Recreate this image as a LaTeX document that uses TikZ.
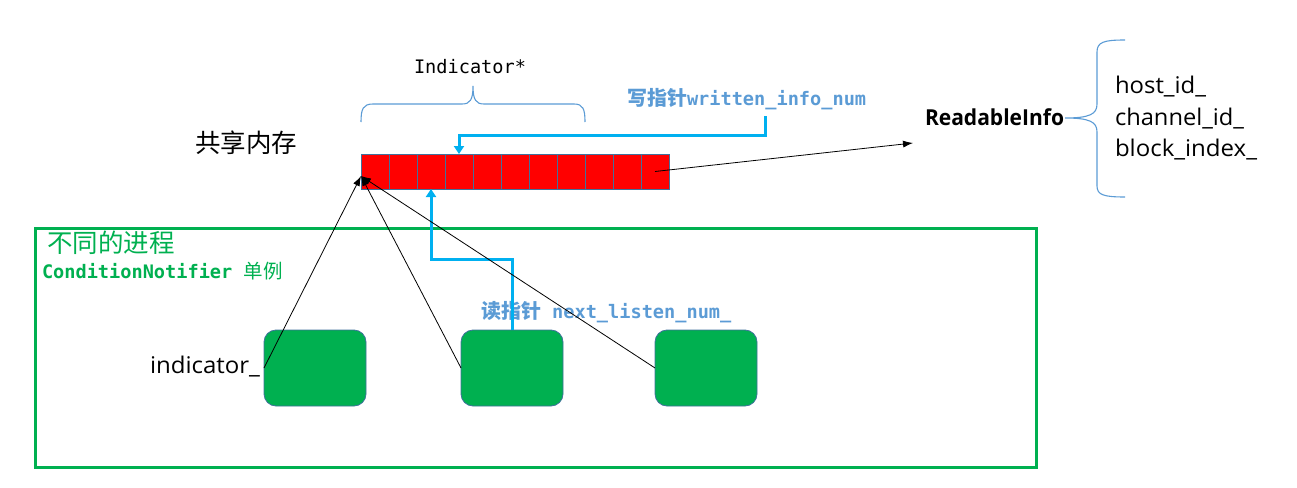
\documentclass[tikz,border=0pt]{standalone}
\usepackage{fontspec}
\usepackage{graphicx}
\setmainfont{Open Sans}
\setmonofont{DejaVu Sans Mono}
\newfontfamily\cjk{Noto Sans CJK SC}
\usetikzlibrary{arrows.meta}
\definecolor{gfill}{HTML}{00B050}
\definecolor{cyanl}{HTML}{00B0F0}
\definecolor{lbl}{HTML}{5B9BD5}
\definecolor{edgeb}{HTML}{41719C}
\definecolor{brc}{HTML}{5B9BD5}
\begin{document}
\begin{tikzpicture}[x=1pt,y=-1pt,
  txt/.style={inner sep=0pt, outer sep=0pt},
  cell/.style={draw=edgeb, fill=red, line width=0.8pt, minimum width=28pt, minimum height=35pt, inner sep=0pt, outer sep=0pt},
  proc/.style={draw=edgeb, fill=gfill, rounded corners=12pt, minimum width=102pt, minimum height=76pt, line width=0.8pt, inner sep=0pt, outer sep=0pt},
  ptr/.style={draw=cyanl, line width=3pt, -{Triangle[length=8pt,width=10pt]}},
  link/.style={draw=black, line width=0.8pt, -{Latex[length=10pt,width=7pt]}},
  bracepath/.style={draw=brc, line width=1.1pt},
]
\path[use as bounding box] (0,0) rectangle (1297,487);

% frame of processes
\node[draw=gfill, line width=3pt, minimum width=1001pt, minimum height=239pt, inner sep=0pt, outer sep=0pt] (frame) at (535.5,347.5) {};

% shared memory array
\foreach \i in {1,...,11}
  \node[cell] (c\i) at ({361+28*\i-14},171.5) {};

% process boxes
\node[proc] (b1) at (315,368) {};
\node[proc] (b2) at (512,368) {};
\node[proc] (b3) at (706,368) {};

% texts
\node[txt, anchor=base] (ind) at (470,74) {\fontsize{18.6}{20}\ttfamily Indicator*};
\node[txt, anchor=west] (shm) at (195,143) {\fontsize{25.5}{28}\cjk 共享内存};
\node[txt, anchor=west, text=lbl] (wl) at (627,99) {\fontsize{20}{22}\cjk\bfseries 写指针\fontsize{18.6}{20}\ttfamily\bfseries written\_info\_num};
\node[txt, anchor=west, text=lbl] (rl) at (481,312) {\fontsize{20}{22}\cjk\bfseries 读指针\fontsize{18.6}{20}\ttfamily\bfseries\ next\_listen\_num\_};
\node[txt, anchor=west, text=gfill] (proct) at (47,243) {\fontsize{25.5}{28}\cjk 不同的进程};
\node[txt, anchor=west, text=gfill] (cn) at (42,271) {\fontsize{18.6}{20}\ttfamily\bfseries ConditionNotifier\ {\cjk\mdseries\fontsize{19.5}{21}\selectfont 单例}};
\node[txt, anchor=base east] (indl) at (260,373) {\resizebox{110pt}{\height}{\fontsize{23}{26}\selectfont indicator\_}};
\node[txt, anchor=base west] (ri) at (925,125) {\resizebox{139pt}{\height}{\fontsize{22}{26}\selectfont\bfseries ReadableInfo}};
\node[txt, anchor=base west] (f1) at (1115,93) {\resizebox{91pt}{\height}{\fontsize{23}{26}\selectfont host\_id\_}};
\node[txt, anchor=base west] (f2) at (1115,125) {\resizebox{129pt}{\height}{\fontsize{23}{26}\selectfont channel\_id\_}};
\node[txt, anchor=base west] (f3) at (1115,156) {\resizebox{142pt}{\height}{\fontsize{23}{26}\selectfont block\_index\_}};

% braces
\draw[bracepath] (361,122) .. controls (361,109) and (363,104) .. (373,104) -- (462,104)
  .. controls (470,104) and (473,100) .. (473,86)
  .. controls (473,100) and (476,104) .. (484,104) -- (574,104)
  .. controls (583,104) and (585,109) .. (585,122);
\draw[bracepath] (1125,40) .. controls (1104,40) and (1097,42) .. (1097,52) -- (1097,104)
  .. controls (1097,114) and (1090,118) .. (1065,118)
  .. controls (1090,118) and (1097,122) .. (1097,132) -- (1097,186)
  .. controls (1097,195) and (1104,197) .. (1125,197);

% pointers
\coordinate (wtop) at (765,116);
\coordinate (wcorner) at (765,135);
\draw[ptr] (wtop) -- (wcorner) -| (c4.north);
\coordinate (rcorner) at (512,259);
\draw[ptr] (b2.north) -- (rcorner) -| (c3.south);

% links
\coordinate (tip) at (361,176);
\draw[link] (b1.west) -- (tip);
\draw[link] (b2.west) -- (tip);
\draw[link] (b3.west) -- (tip);
\coordinate (riin) at (913,143);
\draw[link] (c11.center) -- (riin);
\end{tikzpicture}
\end{document}
